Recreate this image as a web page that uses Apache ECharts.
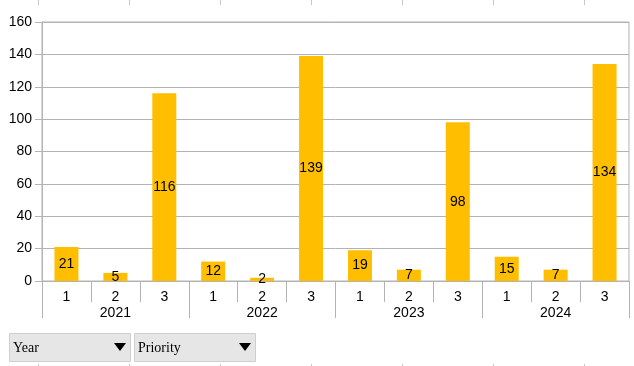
<!DOCTYPE html>
<html><head><meta charset="utf-8">
<script src="https://cdn.jsdelivr.net/npm/echarts@6/dist/echarts.min.js"></script>
<style>html,body{margin:0;padding:0;background:#fff}#c{width:634px;height:366px}</style>
</head><body><div id="c"></div>
<script>
const priorities = ['1','2','3','1','2','3','1','2','3','1','2','3'];
const years = ['2021','2022','2023','2024'];
const counts = [21,5,116,12,2,139,19,7,98,15,7,134];
const yTicks = {min:0, max:160, interval:20};

const chart = echarts.init(document.getElementById('c'));
const gray = '#b3b3b3';
const font = '"Liberation Sans", Arial, sans-serif';
const graphics = [];
[38,129,220,311,402,493,584].forEach(x=>{
  graphics.push({type:'line', shape:{x1:x+0.5,y1:0,x2:x+0.5,y2:5}, style:{stroke:'#c8c8c8',lineWidth:1}});
  graphics.push({type:'line', shape:{x1:x+0.5,y1:364,x2:x+0.5,y2:366}, style:{stroke:'#c8c8c8',lineWidth:1}});
});
function button(x, label){
  graphics.push({type:'rect', shape:{x:x+0.5,y:333.5,width:121,height:28}, style:{fill:'#e6e6e6',stroke:'#cfcfcf',lineWidth:1}});
  graphics.push({type:'text', x:x+4, y:348, style:{text:label, font:'14px "Liberation Serif", serif', fill:'#000', textVerticalAlign:'middle'}});
  graphics.push({type:'polygon', shape:{points:[[x+105,343],[x+117,343],[x+111,351]]}, style:{fill:'#000'}});
}
button(9,'Year');
button(134,'Priority');

chart.setOption({
  animation:false,
  backgroundColor:'#fff',
  grid:{left:42,right:5,top:22,bottom:85,show:true,borderColor:gray,borderWidth:1},
  xAxis:[{
    type:'category', data:priorities, position:'bottom',
    axisLine:{lineStyle:{color:gray}},
    axisTick:{show:true,interval:0,length:21,lineStyle:{color:gray}},
    axisLabel:{interval:0,margin:9,color:'#000',fontSize:14,fontFamily:font}
  },{
    type:'category', data:years, position:'bottom',
    axisLine:{show:false},
    axisTick:{show:true,interval:0,length:37,lineStyle:{color:gray}},
    axisLabel:{interval:0,margin:25,color:'#000',fontSize:14,fontFamily:font}
  }],
  yAxis:{
    type:'value', min:yTicks.min, max:yTicks.max, interval:yTicks.interval,
    axisLine:{show:true,lineStyle:{color:gray}},
    axisTick:{show:true,length:7,inside:false,lineStyle:{color:gray}},
    axisLabel:{margin:10,color:'#000',fontSize:14,fontFamily:font},
    splitLine:{lineStyle:{color:gray,width:1}}
  },
  series:[{
    type:'bar', data:counts, xAxisIndex:0, barWidth:24,
    itemStyle:{color:'#ffbf00'},
    label:{show:true,position:'inside',color:'#000',fontSize:14,fontFamily:font}
  }],
  graphic:graphics
});
</script></body></html>
